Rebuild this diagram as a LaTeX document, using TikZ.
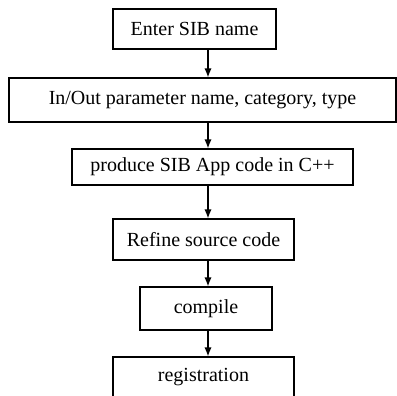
\documentclass[tikz,border=0pt]{standalone}
\usepackage{fontspec}
\setmainfont{Liberation Serif}
\usepackage{tikz}
\usetikzlibrary{shapes,arrows,arrows.meta}
\tikzstyle{block} = [rectangle, draw, line width=0.6pt, inner sep=0pt,
    text centered, font=\fontsize{10}{12}\selectfont]
\tikzstyle{line} = [draw, line width=0.6pt, -{Latex[length=4.5pt,width=3.6pt]}]

\begin{document}
\begin{tikzpicture}[x=0.5pt, y=-0.5pt, node distance=35pt]
    \clip (0,0) rectangle (397,396);
    % Place nodes
    \coordinate (axis) at (208,0);
    \node [block, minimum width=81.5pt, minimum height=20pt] (sib) at (194.5,29) {Enter SIB name};
    \node [block, below of=sib, node distance=35.5pt, xshift=4pt, minimum width=193.5pt, minimum height=22pt] (param) {In/Out parameter name, category, type};
    \node [block, below of=param, node distance=33.5pt, xshift=5pt, minimum width=140.5pt, minimum height=18pt] (code) {produce SIB App code in C++};
    \node [block, below of=code, node distance=36.25pt, xshift=-4.5pt, minimum width=90.5pt, minimum height=20.5pt] (refine) {Refine source code};
    \node [block, below of=refine, node distance=34.5pt, xshift=1.25pt, minimum width=66pt, minimum height=21.5pt] (compile) {compile};
    \node [block, below of=compile, node distance=34.25pt, xshift=-1.25pt, minimum width=90.5pt, minimum height=20pt] (reg) {registration};
    % Draw edges
    \path [line] (sib.south -| axis) -- (param.north -| axis);
    \path [line] (param.south -| axis) -- (code.north -| axis);
    \path [line] (code.south -| axis) -- (refine.north -| axis);
    \path [line] (refine.south -| axis) -- (compile.north -| axis);
    \path [line] (compile.south -| axis) -- (reg.north -| axis);
\end{tikzpicture}
\end{document}
